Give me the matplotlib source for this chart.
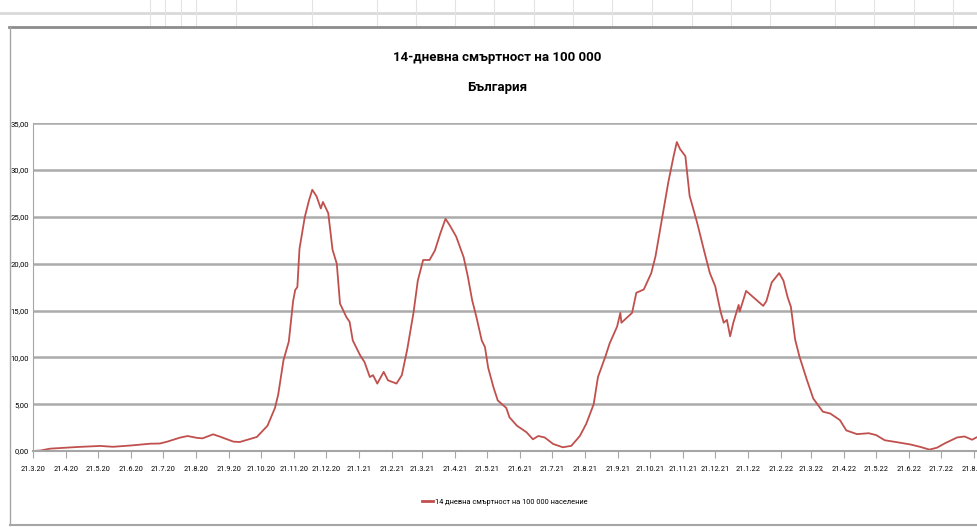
import matplotlib
matplotlib.use("Agg")
import matplotlib.pyplot as plt
import matplotlib.lines as mlines
import pandas as pd
from matplotlib import font_manager

# ---------------- data ----------------
start_date = "2020-03-21"
end_tick_date = "2022-08-21"
days_from_start = [0, 7, 16, 42, 63, 75, 93, 110, 119, 126, 138, 145, 154, 159, 169, 175, 188, 194,
                   204, 210, 215, 220, 227, 230, 235, 240, 244, 246, 248, 250, 255, 259, 262, 266,
                   270, 272, 277, 281, 285, 288, 294, 297, 300, 307, 311, 316, 319, 323, 329, 333,
                   341, 346, 351, 357, 361, 366, 372, 377, 382, 387, 391, 397, 404, 408, 412, 416,
                   421, 424, 427, 432, 436, 444, 447, 454, 463, 469, 474, 480, 488, 497, 505, 513,
                   519, 526, 530, 537, 541, 548, 551, 552, 562, 566, 573, 580, 584, 590, 596, 601,
                   604, 607, 612, 616, 623, 630, 635, 640, 645, 648, 651, 654, 657, 662, 663, 669,
                   676, 685, 688, 693, 700, 704, 708, 711, 715, 719, 726, 732, 741, 748, 757, 763,
                   773, 784, 791, 799, 810, 823, 832, 841, 848, 856, 867, 874, 881, 885]
mortality = [0.0, 0.05, 0.25, 0.43, 0.54, 0.45, 0.6, 0.78, 0.8, 1.0, 1.43, 1.6, 1.4, 1.35, 1.78, 1.55, 1.0, 0.96,
             1.3, 1.5, 2.1, 2.7, 4.6, 6.0, 9.7, 11.7, 16.0, 17.2, 17.5, 21.6, 25.0, 26.8, 27.9, 27.2,
             25.9, 26.6, 25.4, 21.5, 20.0, 15.75, 14.3, 13.8, 11.8, 10.2, 9.5, 7.9, 8.1, 7.2, 8.45, 7.55,
             7.2, 8.1, 10.8, 14.8, 18.2, 20.4, 20.4, 21.4, 23.2, 24.8, 24.1, 22.9, 20.7, 18.6, 16.1, 14.3,
             11.8, 11.1, 8.9, 6.8, 5.4, 4.6, 3.6, 2.7, 2.0, 1.25, 1.6, 1.45, 0.75, 0.4, 0.55, 1.6,
             2.9, 5.0, 7.9, 10.1, 11.5, 13.3, 14.75, 13.7, 14.75, 16.9, 17.25, 19.0, 20.8, 24.75, 28.7, 31.5,
             33.0, 32.25, 31.5, 27.25, 24.4, 21.2, 19.0, 17.6, 14.9, 13.7, 14.0, 12.25, 13.7, 15.6, 14.9, 17.1,
             16.4, 15.5, 16.0, 18.0, 19.0, 18.2, 16.4, 15.4, 11.9, 10.1, 7.6, 5.6, 4.2, 4.0, 3.3, 2.2,
             1.8, 1.9, 1.7, 1.15, 0.95, 0.7, 0.45, 0.15, 0.35, 0.85, 1.45, 1.55, 1.2, 1.45]
y_ticks = [0, 5, 10, 15, 20, 25, 30, 35]
title = "14-дневна смъртност на 100 000"
subtitle = "България"
series_label = "14 дневна смъртност на 100 000 население"

# ---------------- fonts ----------------
names = {f.name for f in font_manager.fontManager.ttflist}
narrow = "Liberation Sans Narrow" if "Liberation Sans Narrow" in names else "Roboto"
FAM = [narrow, "DejaVu Sans"]

W, H = 977, 527
fig = plt.figure(figsize=(W / 100, H / 100), dpi=100)
fig.patch.set_facecolor("white")

def fx(px):
    return px / W
def fy(py):
    return 1 - py / H

# spreadsheet frame decorations
fig.add_artist(mlines.Line2D([0, 1], [fy(13), fy(13)], color="#d9d9d9", lw=2.0))
for cx in [150, 165, 181, 196, 236, 312, 377, 416, 455, 494, 534, 573, 612, 652, 692, 731, 770, 835, 874, 914, 953]:
    fig.add_artist(mlines.Line2D([fx(cx), fx(cx)], [fy(0), fy(27)], color="#e3e3e3", lw=0.8))
fig.add_artist(mlines.Line2D([fx(9), 1], [fy(27), fy(27)], color="#8c8c8c", lw=2.0))
fig.add_artist(mlines.Line2D([fx(10), fx(10)], [fy(27), fy(525)], color="#a6a6a6", lw=1.0))
fig.add_artist(mlines.Line2D([fx(10), 1], [fy(525), fy(525)], color="#a6a6a6", lw=1.5))

ax = fig.add_axes([fx(33), fy(451), 1 - fx(33), fy(123.3) - fy(451)])

start = pd.Timestamp(start_date)
tick_dates = pd.date_range(start_date, end_tick_date, freq=pd.DateOffset(months=1))
tick_pos = [(d - start).days for d in tick_dates]
tick_labels = [f"{d.day}.{d.month}.{d.year % 100:02d}" for d in tick_dates]

ax.plot(days_from_start, mortality, color="#c0504d", lw=1.3, label=series_label)

ax.set_xlim(0, 885.6)
ax.set_ylim(0, 35)
ax.set_yticks(y_ticks)
ax.set_yticklabels([f"{v:.2f}".replace(".", ",") for v in y_ticks], family=FAM, fontsize=5.5)
ax.set_xticks(tick_pos)
ax.set_xticklabels(tick_labels, family=FAM, fontsize=5.3)
ax.yaxis.grid(True, color="#ababab", lw=1.8)
ax.set_axisbelow(True)
for s in ["top", "right"]:
    ax.spines[s].set_visible(False)
ax.spines["left"].set_color("#a6a6a6")
ax.spines["bottom"].set_color("#a6a6a6")
ax.spines["bottom"].set_linewidth(1.5)
ax.tick_params(axis="y", length=0, pad=3)
ax.tick_params(axis="x", length=5, color="#a6a6a6", pad=6, direction="out")

fig.text(fx(497), fy(57), title, ha="center", va="center", fontsize=9.5, fontweight="bold", family=FAM)
fig.text(fx(497), fy(88), subtitle, ha="center", va="center", fontsize=9.5, fontweight="bold", family=FAM)

leg = fig.legend(handles=[mlines.Line2D([], [], color="#c0504d", lw=2)], labels=[series_label],
                 loc="center", bbox_to_anchor=(fx(505), fy(502)), frameon=False,
                 prop={"family": FAM, "size": 5.3}, handlelength=1.4, handletextpad=0.3)

fig.savefig("out.png", dpi=100)
